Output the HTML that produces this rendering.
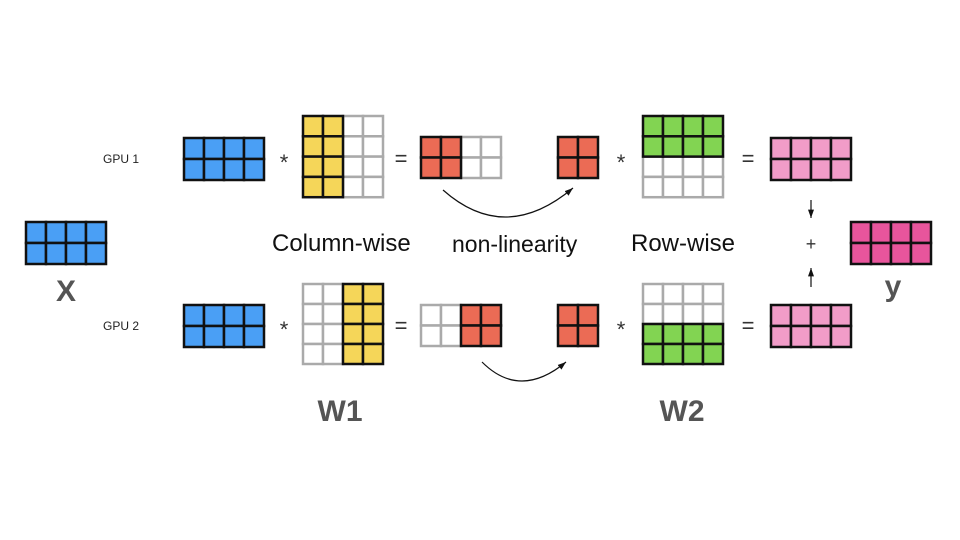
<!DOCTYPE html>
<html><head><meta charset="utf-8"><style>
html,body{margin:0;padding:0;background:#fff}
svg{display:block;font-family:"Liberation Sans",Arial,sans-serif}
</style></head><body>
<svg id="s" width="960" height="540" viewBox="0 0 960 540">
<defs><marker id="ah" markerWidth="8" markerHeight="8" refX="7" refY="4" orient="auto"><path d="M0,1.5 L7,4 L0,6.5 z" fill="#111"/></marker></defs>
<g id="grids"></g>
<text x="103" y="163" font-size="12" fill="#222">GPU 1</text>
<text x="103" y="330" font-size="12" fill="#222">GPU 2</text>
<text x="272" y="251" font-size="24" fill="#111">Column-wise</text>
<text x="452" y="252" font-size="23" fill="#111">non-linearity</text>
<text x="631" y="251" font-size="24" fill="#111">Row-wise</text>
<text x="66" y="301" font-size="30" font-weight="bold" fill="#555" text-anchor="middle">X</text>
<text x="340" y="421" font-size="30" font-weight="bold" fill="#555" text-anchor="middle">W1</text>
<text x="682" y="421" font-size="30" font-weight="bold" fill="#555" text-anchor="middle">W2</text>
<text x="893" y="296" font-size="30" font-weight="bold" fill="#555" text-anchor="middle">y</text>
<g font-size="22" fill="#333" text-anchor="middle">
<text x="284" y="170">*</text>
<text x="401" y="166">=</text>
<text x="621" y="170">*</text>
<text x="748" y="166">=</text>
<text x="284" y="337">*</text>
<text x="401" y="333">=</text>
<text x="621" y="337">*</text>
<text x="748" y="333">=</text>
<text x="811" y="250" font-size="18">+</text>
</g>
<path d="M443,190 Q505,245 573,188" fill="none" stroke="#111" stroke-width="1.2" marker-end="url(#ah)"/>
<path d="M482,362 Q520,400 566,362" fill="none" stroke="#111" stroke-width="1.2" marker-end="url(#ah)"/>
<line x1="811" y1="200" x2="811" y2="218" stroke="#111" stroke-width="1.2" marker-end="url(#ah)"/>
<line x1="811" y1="287" x2="811" y2="268" stroke="#111" stroke-width="1.2" marker-end="url(#ah)"/>
</svg>
<script>
const NS="http://www.w3.org/2000/svg";
const g=document.getElementById('grids');
function grid(name,x,y,cols,rows,cw,ch,fillFn){
  const grp=document.createElementNS(NS,'g');
  
  
  const cells=[];
  for(let r=0;r<rows;r++)for(let c=0;c<cols;c++){cells.push([r,c,fillFn(r,c)]);}
  cells.sort((a,b)=>(a[2]?1:0)-(b[2]?1:0));
  for(const [r,c,f] of cells){
    const rc=document.createElementNS(NS,'rect');
    rc.setAttribute('x',x+c*cw);rc.setAttribute('y',y+r*ch);
    rc.setAttribute('width',cw);rc.setAttribute('height',ch);
    rc.setAttribute('fill',f||'#fff');
    rc.setAttribute('stroke',f?'#111':'#aaa');
    rc.setAttribute('stroke-width','2.5');
    
    
    grp.appendChild(rc);
  }
  g.appendChild(grp);
}
const B='#4a9ff5',Y='#f5d659',R='#eb6b55',G='#82d452',P='#f19cc8',M='#e8559c';
grid('x-input',26,222,4,2,20,21,()=>B);
grid('gpu1-x',184,138,4,2,20,21,()=>B);
grid('gpu1-w1',303,116,4,4,20,20.3,(r,c)=>c<2?Y:null);
grid('gpu1-partial',421,137,4,2,20,20.5,(r,c)=>c<2?R:null);
grid('gpu1-activation',558,137,2,2,20,20.5,()=>R);
grid('gpu1-w2',643,116,4,4,20,20.3,(r,c)=>r<2?G:null);
grid('gpu1-output',771,138,4,2,20,21,()=>P);
grid('y-output',851,222,4,2,20,21,()=>M);
grid('gpu2-x',184,305,4,2,20,21,()=>B);
grid('gpu2-w1',303,284,4,4,20,20,(r,c)=>c>=2?Y:null);
grid('gpu2-partial',421,305,4,2,20,20.5,(r,c)=>c>=2?R:null);
grid('gpu2-activation',558,305,2,2,20,20.5,()=>R);
grid('gpu2-w2',643,284,4,4,20,20,(r,c)=>r>=2?G:null);
grid('gpu2-output',771,305,4,2,20,21,()=>P);
</script>
</body></html>
